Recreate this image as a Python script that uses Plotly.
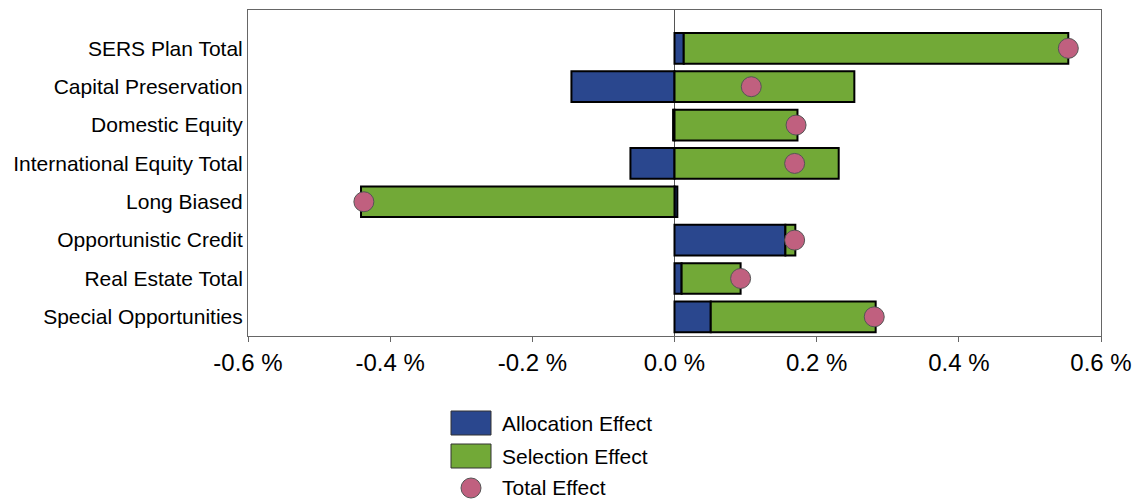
import plotly.graph_objects as go

categories = ["SERS Plan Total", "Capital Preservation", "Domestic Equity",
              "International Equity Total", "Long Biased", "Opportunistic Credit",
              "Real Estate Total", "Special Opportunities"]
allocation = [0.013, -0.145, -0.002, -0.062, 0.004, 0.156, 0.010, 0.051]
selection = [0.541, 0.253, 0.173, 0.231, -0.441, 0.014, 0.083, 0.232]
total = [0.554, 0.108, 0.171, 0.169, -0.437, 0.169, 0.093, 0.281]

tick_vals = [-0.6, -0.4, -0.2, 0.0, 0.2, 0.4, 0.6]
tick_text = ["-0.6 %", "-0.4 %", "-0.2 %", "0.0 %", "0.2 %", "0.4 %", "0.6 %"]

BLUE = "#2A478E"
GREEN = "#72A937"
PINK = "#C0607F"
FONT = "Liberation Sans Narrow, Liberation Sans, Arial"

fig = go.Figure()
fig.add_trace(go.Bar(y=categories, x=allocation, orientation="h", name="Allocation Effect",
                     marker=dict(color=BLUE, line=dict(color="black", width=2)), width=0.8))
fig.add_trace(go.Bar(y=categories, x=selection, orientation="h", name="Selection Effect",
                     marker=dict(color=GREEN, line=dict(color="black", width=2)), width=0.8))
fig.add_trace(go.Scatter(y=categories, x=total, mode="markers", name="Total Effect",
                         marker=dict(color=PINK, size=20, line=dict(color="#555555", width=1))))

fig.update_layout(
    width=1136, height=500,
    barmode="relative",
    plot_bgcolor="white", paper_bgcolor="white",
    margin=dict(l=248, r=35, t=10, b=164),
    showlegend=False,
    font=dict(family=FONT, size=20, color="black"),
    xaxis=dict(range=[-0.6, 0.6], tickvals=tick_vals, ticktext=tick_text,
               showgrid=False, zeroline=True, zerolinecolor="#555555", zerolinewidth=1,
               showline=True, linecolor="#666666", linewidth=1, mirror=True,
               ticks="outside", ticklen=5, tickcolor="#666666", automargin=False,
               ticklabelstandoff=0,
               tickfont=dict(family=FONT, size=24)),
    yaxis=dict(range=[7.5, -1.0], showgrid=False, showline=True, linecolor="#666666",
               linewidth=1, mirror=True, ticks="", ticklabelstandoff=0, automargin=False,
               tickfont=dict(family=FONT, size=21)),
)

# custom legend below plot
legend_items = [("Allocation Effect", "box", BLUE), ("Selection Effect", "box", GREEN),
                ("Total Effect", "circle", PINK)]
ys = [423, 456, 487]
for (label, kind, col), yc in zip(legend_items, ys):
    if kind == "box":
        fig.add_shape(type="rect", xref="paper", yref="paper",
                      x0=(451 - 248) / 853, x1=(491 - 248) / 853,
                      y0=-(yc - 12 - 336) / 326, y1=-(yc + 12 - 336) / 326,
                      fillcolor=col, line=dict(color="#333333", width=1))
    else:
        fig.add_shape(type="circle", xref="paper", yref="paper",
                      x0=(461 - 248) / 853, x1=(481 - 248) / 853,
                      y0=-(yc + 1 - 10 - 336) / 326, y1=-(yc + 1 + 10 - 336) / 326,
                      fillcolor=col, line=dict(color="#555555", width=1))
    fig.add_annotation(xref="paper", yref="paper", x=(500 - 248) / 853,
                       y=-(yc - 336) / 326, text=label, showarrow=False,
                       xanchor="left", yanchor="middle",
                       font=dict(family=FONT, size=21, color="black"))

fig.write_html("out.html", config={"displayModeBar": False})

# remove default body margin so the figure sits at the window's top-left corner
with open("out.html", "r", encoding="utf-8") as f:
    html = f.read()
html = html.replace("<head>", "<head><style>html,body{margin:0;padding:0;overflow:hidden;}</style>", 1)
with open("out.html", "w", encoding="utf-8") as f:
    f.write(html)
